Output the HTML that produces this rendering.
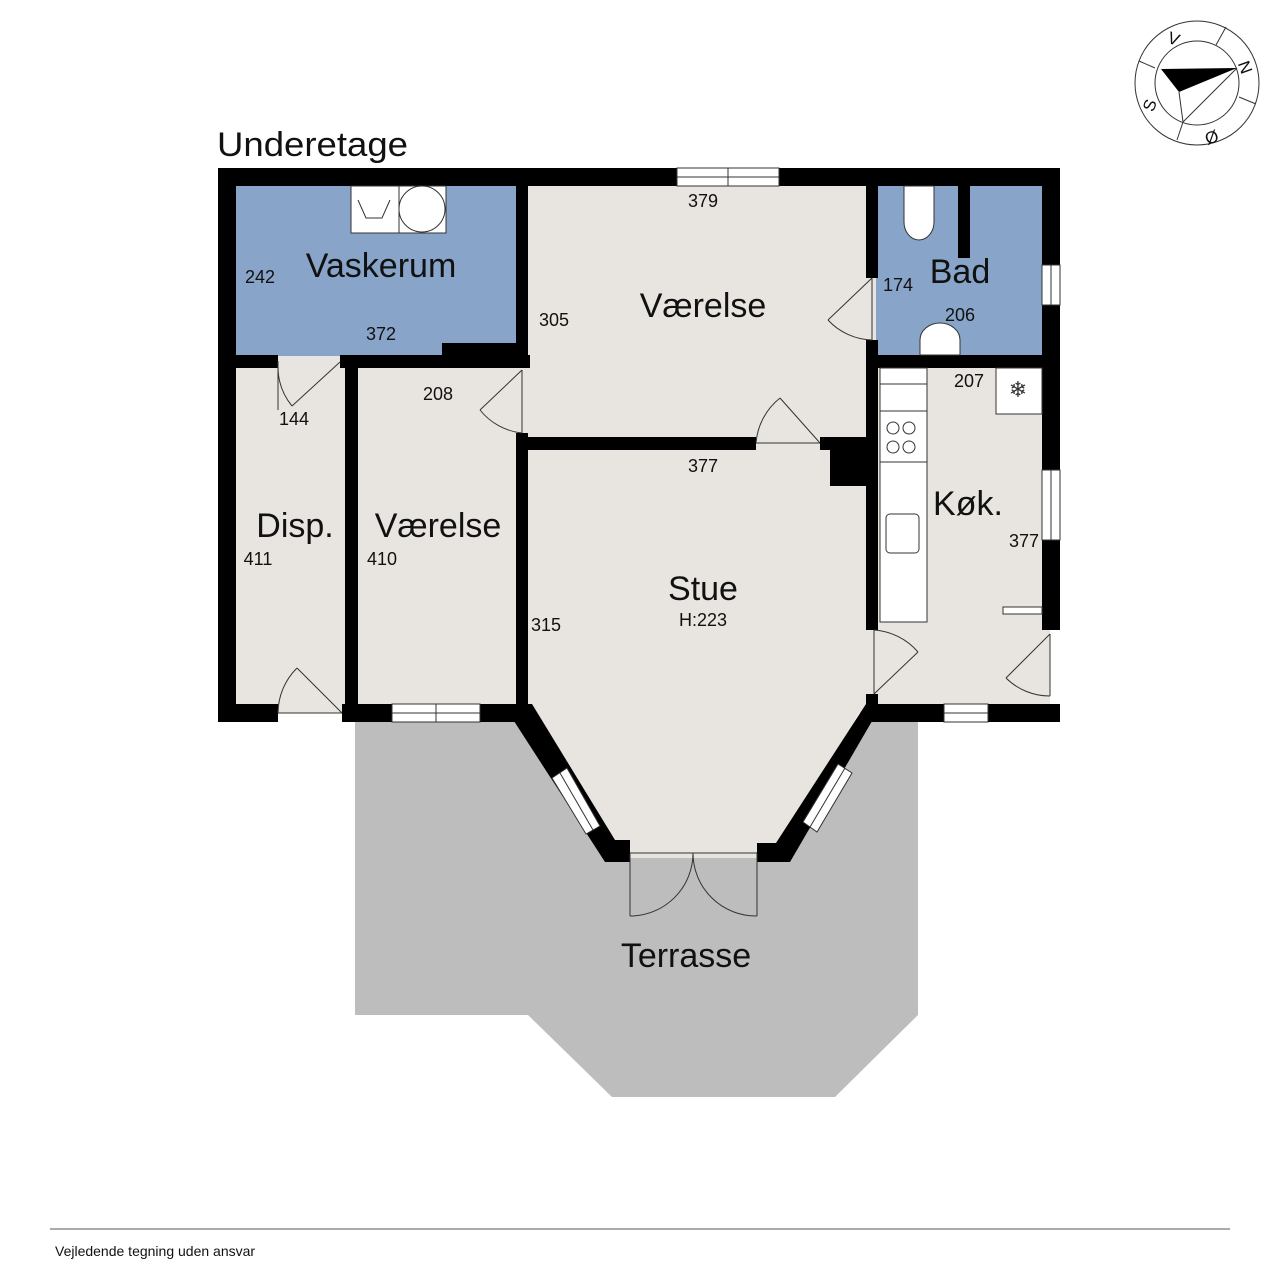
<!DOCTYPE html>
<html><head><meta charset="utf-8"><style>
html,body{margin:0;padding:0;background:#fff;width:1280px;height:1280px;overflow:hidden}
svg{display:block}
text{font-family:"Liberation Sans",sans-serif;fill:#111}
</style></head><body>
<svg width="1280" height="1280" viewBox="0 0 1280 1280" xmlns="http://www.w3.org/2000/svg">
<polygon points="355,722 518,722 612,853 760,853 866,722 918,722 918,1015 835,1097 612,1097 528,1015 355,1015" fill="#bdbdbd"/>
<rect x="228" y="178" width="822" height="535" fill="#e8e4df"/>
<polygon points="528,700 866,700 780,858 615,858" fill="#e8e4df"/>
<rect x="236" y="186" width="282" height="170" fill="#88a4c8"/>
<rect x="876" y="186" width="168" height="170" fill="#88a4c8"/>
<g fill="#000">
<rect x="218" y="168" width="842" height="18"/>
<rect x="218" y="168" width="18" height="554"/>
<rect x="1042" y="168" width="18" height="462"/>
<rect x="218" y="704" width="60" height="18"/>
<rect x="342" y="704" width="186" height="18"/>
<rect x="866" y="704" width="194" height="18"/>
<rect x="218" y="355" width="60" height="13"/>
<rect x="340" y="355" width="190" height="13"/>
<rect x="442" y="343" width="86" height="25"/>
<rect x="516" y="168" width="12" height="200"/>
<rect x="345" y="368" width="13" height="354"/>
<rect x="516" y="433" width="12" height="289"/>
<rect x="516" y="437" width="240" height="13"/>
<rect x="820" y="437" width="46" height="13"/>
<rect x="830" y="437" width="36" height="49"/>
<rect x="866" y="168" width="12" height="110"/>
<rect x="866" y="340" width="12" height="290"/>
<rect x="866" y="355" width="194" height="13"/>
<rect x="866" y="694" width="12" height="28"/>
<rect x="958" y="186" width="12" height="72"/>
<polygon points="516,704 532,704 615,840 630,840 630,862 605,862 512,718"/>
<polygon points="866,704 882,704 790,862 757,862 757,843 776,843"/>
</g>
<g fill="#fff" stroke="#333" stroke-width="1">
<rect x="677" y="168" width="102" height="18"/>
<line x1="728" y1="168" x2="728" y2="186"/>
<line x1="677" y1="177" x2="779" y2="177"/>
<rect x="392" y="704" width="88" height="18"/>
<line x1="392" y1="713" x2="480" y2="713"/><line x1="436" y1="704" x2="436" y2="722"/>
<rect x="944" y="704" width="44" height="18"/>
<line x1="944" y1="713" x2="988" y2="713"/>
<rect x="1042" y="265" width="18" height="40"/>
<line x1="1051" y1="265" x2="1051" y2="305"/>
<rect x="1042" y="470" width="18" height="70"/>
<line x1="1051" y1="470" x2="1051" y2="540"/>
<polygon points="552,778 567,768 600,826 586,834"/>
<polygon points="803,822 838,764 852,773 817,832"/>
</g>
<line x1="560" y1="773" x2="593" y2="830" stroke="#333"/>
<line x1="845" y1="768" x2="810" y2="827" stroke="#333"/>
<g fill="none" stroke="#333" stroke-width="1">
<line x1="278" y1="713" x2="342" y2="713"/><line x1="342" y1="713" x2="297" y2="668"/><path d="M278,713 A64,64 0 0 1 297,668"/>
<line x1="278" y1="361" x2="278" y2="410"/><path d="M278,366 A62,62 0 0 0 292,406"/><line x1="340" y1="362" x2="292" y2="406"/>
<line x1="522" y1="370" x2="522" y2="433"/><path d="M522,433 A62,62 0 0 1 480,410"/><line x1="480" y1="410" x2="522" y2="370"/>
<line x1="756" y1="443" x2="820" y2="443"/><path d="M756,443 A64,64 0 0 1 780,398"/><line x1="780" y1="398" x2="820" y2="443"/>
<line x1="872" y1="278" x2="872" y2="340"/><path d="M872,340 A62,62 0 0 1 828,320"/><line x1="828" y1="320" x2="872" y2="278"/>
<line x1="874" y1="630" x2="874" y2="694"/><path d="M874,630 A64,64 0 0 1 918,652"/><line x1="918" y1="652" x2="874" y2="694"/>
<line x1="1050" y1="634" x2="1050" y2="696"/><path d="M1050,696 A62,62 0 0 1 1006,678"/><line x1="1006" y1="678" x2="1050" y2="634"/>
<path d="M630,853 L757,853 M630,853 L630,916 M757,853 L757,916"/>
<path d="M630,916 A63,63 0 0 0 693,853 A63,63 0 0 0 757,916"/>
</g>
<g fill="#fff" stroke="#333" stroke-width="1">
<rect x="351" y="186" width="48" height="47"/><rect x="399" y="186" width="47" height="47"/>
<circle cx="422" cy="209" r="23"/>
<path d="M358,200 L366,218 L382,218 L390,200" fill="none"/>
<rect x="880" y="368" width="47" height="254"/>
<line x1="880" y1="384" x2="927" y2="384"/><line x1="880" y1="411" x2="927" y2="411"/><line x1="880" y1="462" x2="927" y2="462"/>
<circle cx="893" cy="428" r="6"/><circle cx="909" cy="428" r="6"/><circle cx="893" cy="447" r="6"/><circle cx="909" cy="447" r="6"/>
<rect x="886" y="514" width="33" height="39" rx="4"/>
<rect x="996" y="368" width="46" height="46"/>
<rect x="1003" y="607" width="39" height="7"/>
<path d="M904,186 L904,222 A15,18 0 0 0 934,222 L934,186 Z"/>
<path d="M920,355 L920,340 A20,17 0 0 1 960,340 L960,355 Z"/>
</g>
<text x="1018" y="397" font-size="22" text-anchor="middle" style="fill:#333">❄</text>
<text x="217" y="156" font-size="34" textLength="191" lengthAdjust="spacingAndGlyphs">Underetage</text>
<g font-size="34" text-anchor="middle">
<text x="381" y="277">Vaskerum</text>
<text x="703" y="317">Værelse</text>
<text x="960" y="283">Bad</text>
<text x="968" y="515">Køk.</text>
<text x="703" y="600">Stue</text>
<text x="295" y="537">Disp.</text>
<text x="438" y="537">Værelse</text>
<text x="686" y="967">Terrasse</text>
</g>
<g font-size="18" text-anchor="middle">
<text x="260" y="283">242</text>
<text x="381" y="340">372</text>
<text x="703" y="207">379</text>
<text x="554" y="326">305</text>
<text x="898" y="291">174</text>
<text x="960" y="321">206</text>
<text x="969" y="387">207</text>
<text x="1024" y="547">377</text>
<text x="703" y="472">377</text>
<text x="703" y="626">H:223</text>
<text x="546" y="631">315</text>
<text x="294" y="425">144</text>
<text x="438" y="400">208</text>
<text x="258" y="565">411</text>
<text x="382" y="565">410</text>
</g>
<g fill="none" stroke="#333" stroke-width="1">
<circle cx="1197" cy="83" r="62"/><circle cx="1197" cy="83" r="42"/>
<line x1="1216" y1="45" x2="1226" y2="27"/><line x1="1239" y1="97" x2="1256" y2="104"/>
<line x1="1183" y1="122" x2="1177" y2="140"/><line x1="1155" y1="68" x2="1139" y2="61"/>
<line x1="1183" y1="122" x2="1237" y2="68"/><line x1="1183" y1="122" x2="1179" y2="92"/>
</g>
<polygon points="1161,69 1237,68 1179,92" fill="#000"/>
<g font-size="17" style="fill:#111">
<text x="1168" y="45" transform="rotate(20 1175 39)">V</text>
<text x="1238" y="75" transform="rotate(70 1246 69)">N</text>
<text x="1143" y="110" transform="rotate(-70 1150 104)">S</text>
<text x="1205" y="143" transform="rotate(-20 1212 137)">Ø</text>
</g>
<line x1="50" y1="1229" x2="1230" y2="1229" stroke="#555"/>
<text x="55" y="1256" font-size="14">Vejledende tegning uden ansvar</text>
</svg>
</body></html>
